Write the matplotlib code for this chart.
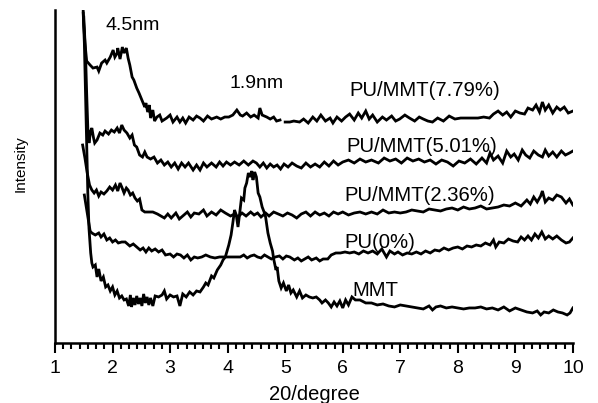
import numpy as np
import matplotlib
matplotlib.use("Agg")
import matplotlib.pyplot as plt
from matplotlib.ticker import MultipleLocator, AutoMinorLocator

plt.rcParams['font.family'] = ['Liberation Sans', 'DejaVu Sans']

# 2theta (degree) / intensity (a.u.)
pu779_x = [1.49, 1.50, 1.52, 1.55, 1.61, 1.66, 1.73, 1.76, 1.81, 1.87, 1.90, 1.96, 2.01, 2.04, 2.08, 2.09,
           2.13, 2.17, 2.20, 2.24, 2.27, 2.30, 2.34, 2.37, 2.42, 2.46, 2.51, 2.56, 2.58, 2.61, 2.64, 2.66,
           2.70, 2.73, 2.77, 2.82, 2.86, 2.94, 3.00, 3.05, 3.12, 3.17, 3.22, 3.27, 3.33, 3.40, 3.46, 3.52,
           3.58, 3.65, 3.72, 3.81, 3.88, 3.95, 4.02, 4.09, 4.16, 4.22, 4.26, 4.33, 4.40, 4.46, 4.53, 4.56,
           4.60, 4.68, 4.74, 4.80, 4.85, 4.91, 4.95, 5.00, 5.08, 5.15, 5.25, 5.32, 5.40, 5.48, 5.55, 5.62,
           5.70, 5.78, 5.83, 5.90, 5.98, 6.05, 6.12, 6.20, 6.27, 6.33, 6.40, 6.46, 6.52, 6.60, 6.69, 6.76,
           6.85, 6.92, 6.99, 7.08, 7.16, 7.25, 7.33, 7.40, 7.48, 7.56, 7.65, 7.75, 7.85, 7.95, 8.05, 8.15,
           8.25, 8.35, 8.45, 8.55, 8.62, 8.70, 8.78, 8.85, 8.92, 9.00, 9.08, 9.16, 9.22, 9.30, 9.36, 9.42,
           9.47, 9.52, 9.58, 9.65, 9.72, 9.78, 9.85, 9.92, 10.0]
pu779_y = [332, 318, 300, 282, 278, 275, 276, 272, 280, 283, 280, 286, 293, 286, 290, 295,
           284, 296, 290, 295, 285, 278, 266, 263, 255, 250, 243, 236, 240, 231, 238, 225,
           233, 222, 226, 228, 222, 225, 228, 221, 226, 221, 225, 220, 226, 223, 227, 225,
           222, 227, 224, 226, 224, 226, 226, 228, 233, 228, 227, 230, 226, 228, 225, 235,
           228, 226, 224, 226, 222, 223, np.nan, 221, 221, 222, 221, 224, 220, 226, 222, 228,
           222, 225, 220, 226, 222, 226, 229, 223, 230, 225, 232, 224, 228, 221, 226, 223,
           227, 222, 224, 228, 225, 222, 226, 224, 222, 221, 225, 222, 227, 224, 225, 225,
           225, 225, 226, 225, 229, 232, 228, 231, 226, 232, 230, 229, 235, 233, 238, 231,
           241, 233, 238, 230, 236, 233, 236, 230, 232]

pu501_x = [1.50, 1.53, 1.55, 1.57, 1.59, 1.62, 1.64, 1.67, 1.69, 1.73, 1.78, 1.83, 1.87, 1.93, 1.98, 2.03,
           2.08, 2.12, 2.16, 2.20, 2.25, 2.30, 2.34, 2.38, 2.42, 2.47, 2.52, 2.56, 2.60, 2.66, 2.72, 2.78,
           2.84, 2.90, 2.96, 3.02, 3.08, 3.14, 3.20, 3.26, 3.32, 3.40, 3.46, 3.52, 3.58, 3.64, 3.72, 3.80,
           3.86, 3.92, 3.98, 4.05, 4.12, 4.20, 4.28, 4.36, 4.44, 4.50, 4.56, 4.62, 4.68, 4.74, 4.80, 4.86,
           4.92, 4.98, 5.05, 5.12, 5.20, 5.28, 5.36, 5.44, 5.52, 5.60, 5.68, 5.76, 5.84, 5.92, 6.00, 6.10,
           6.20, 6.30, 6.40, 6.50, 6.62, 6.72, 6.82, 6.92, 7.02, 7.12, 7.22, 7.32, 7.42, 7.52, 7.62, 7.72,
           7.82, 7.92, 8.02, 8.12, 8.22, 8.32, 8.42, 8.50, 8.56, 8.62, 8.70, 8.78, 8.85, 8.92, 8.98, 9.05,
           9.12, 9.18, 9.25, 9.32, 9.40, 9.47, 9.52, 9.58, 9.65, 9.72, 9.80, 9.87, 9.94, 10.0]
pu501_y = [326, 290, 250, 215, 200, 212, 215, 205, 200, 203, 210, 208, 212, 209, 213, 211,
           215, 210, 218, 213, 210, 205, 208, 198, 196, 188, 186, 191, 186, 184, 186, 180,
           183, 178, 181, 176, 180, 174, 180, 176, 180, 173, 178, 173, 180, 176, 180, 176,
           181, 177, 181, 178, 181, 178, 182, 178, 182, 180, 176, 180, 175, 179, 176, 178,
           174, 179, 176, 180, 177, 175, 180, 176, 179, 176, 181, 177, 182, 178, 181, 183,
           180, 184, 181, 183, 180, 185, 182, 184, 180, 185, 182, 184, 181, 183, 179, 183,
           181, 177, 182, 180, 184, 179, 185, 180, 190, 183, 187, 180, 192, 186, 189, 183,
           193, 188, 185, 192, 188, 186, 193, 187, 191, 186, 192, 188, 190, 192]

pu236_x = [1.48, 1.52, 1.56, 1.60, 1.64, 1.68, 1.72, 1.76, 1.80, 1.85, 1.90, 1.95, 2.00, 2.05, 2.09, 2.13,
           2.16, 2.20, 2.24, 2.27, 2.31, 2.35, 2.39, 2.43, 2.47, 2.51, 2.56, 2.62, 2.70, 2.78, 2.84, 2.90,
           2.96, 3.02, 3.10, 3.16, 3.22, 3.30, 3.36, 3.42, 3.50, 3.58, 3.64, 3.72, 3.80, 3.88, 3.96, 4.05,
           4.12, 4.18, 4.25, 4.32, 4.40, 4.46, 4.52, 4.58, 4.66, 4.72, 4.80, 4.88, 4.96, 5.04, 5.12, 5.20,
           5.28, 5.36, 5.44, 5.52, 5.60, 5.68, 5.76, 5.84, 5.92, 6.00, 6.10, 6.20, 6.30, 6.40, 6.50, 6.60,
           6.70, 6.80, 6.90, 7.00, 7.10, 7.20, 7.30, 7.40, 7.50, 7.60, 7.70, 7.80, 7.90, 8.00, 8.10, 8.20,
           8.30, 8.40, 8.50, 8.60, 8.70, 8.80, 8.90, 9.00, 9.10, 9.20, 9.26, 9.32, 9.38, 9.44, 9.47, 9.52,
           9.58, 9.65, 9.72, 9.80, 9.88, 9.94, 10.0]
pu236_y = [198, 185, 170, 158, 153, 150, 153, 147, 151, 149, 152, 156, 153, 158, 152, 160,
           156, 150, 155, 153, 148, 150, 145, 142, 144, 133, 131, 131, 131, 129, 127, 125,
           129, 125, 130, 124, 127, 131, 126, 130, 129, 133, 127, 131, 128, 133, 130, 127,
           129, 126, 130, 127, 131, 128, 130, 126, 130, 127, 131, 129, 127, 130, 128, 125,
           129, 131, 127, 131, 128, 130, 127, 131, 129, 131, 128, 130, 131, 129, 131, 129,
           133, 130, 131, 130, 131, 133, 132, 131, 134, 133, 132, 134, 135, 133, 136, 134,
           135, 137, 134, 135, 136, 138, 137, 140, 137, 143, 139, 146, 141, 147, 152, 141,
           145, 143, 148, 146, 140, 144, 138]

pu0_x = [1.51, 1.56, 1.61, 1.64, 1.70, 1.76, 1.80, 1.85, 1.90, 1.95, 2.00, 2.05, 2.10, 2.16, 2.22, 2.30,
         2.36, 2.42, 2.48, 2.53, 2.58, 2.63, 2.68, 2.74, 2.80, 2.86, 2.92, 3.00, 3.06, 3.12, 3.18, 3.24,
         3.30, 3.36, 3.42, 3.48, 3.55, 3.62, 3.70, 3.78, 3.86, 3.93, 4.00, 4.08, 4.15, 4.22, 4.28, 4.34,
         4.40, 4.46, 4.52, 4.58, 4.64, 4.70, 4.76, 4.83, 4.90, 4.96, 5.02, 5.08, 5.16, 5.22, 5.28, 5.34,
         5.40, 5.46, 5.54, 5.60, 5.66, 5.74, 5.80, 5.88, 5.96, 6.04, 6.12, 6.20, 6.28, 6.36, 6.44, 6.52,
         6.60, 6.68, 6.76, 6.82, 6.90, 6.96, 7.04, 7.12, 7.20, 7.28, 7.36, 7.44, 7.52, 7.60, 7.68, 7.76,
         7.84, 7.92, 8.00, 8.08, 8.16, 8.24, 8.32, 8.40, 8.48, 8.56, 8.62, 8.66, 8.72, 8.80, 8.88, 8.96,
         9.04, 9.10, 9.16, 9.22, 9.28, 9.34, 9.40, 9.46, 9.52, 9.58, 9.65, 9.72, 9.80, 9.88, 9.94, 10.0]
pu0_y = [148, 130, 112, 110, 108, 110, 106, 109, 103, 105, 101, 103, 100, 101, 101, 97,
         99, 96, 93, 95, 91, 95, 92, 94, 91, 93, 88, 89, 86, 89, 88, 85,
         88, 83, 86, 85, 86, 88, 86, 85, 86, 86, 86, 86, 86, 86, 88, 85,
         87, 88, 86, 85, 88, 86, 84, 86, 87, 84, 87, 86, 83, 85, 82, 84,
         86, 83, 85, 82, 84, 84, 88, 90, 90, 91, 90, 91, 89, 92, 90, 92,
         89, 94, 86, 92, 89, 91, 88, 90, 89, 91, 89, 92, 90, 93, 92, 95,
         93, 95, 96, 94, 97, 96, 98, 97, 100, 98, 103, 96, 101, 100, 104, 102,
         101, 106, 103, 107, 103, 109, 105, 111, 104, 107, 104, 107, 103, 100, 101, 105]

mmt_x = [1.49, 1.51, 1.53, 1.55, 1.57, 1.59, 1.62, 1.64, 1.66, 1.70, 1.73, 1.76, 1.80, 1.84, 1.88, 1.92,
         1.96, 2.00, 2.04, 2.08, 2.12, 2.16, 2.20, 2.24, 2.28, 2.31, 2.33, 2.36, 2.39, 2.42, 2.45, 2.48,
         2.51, 2.54, 2.57, 2.60, 2.63, 2.66, 2.70, 2.74, 2.80, 2.86, 2.90, 2.94, 3.00, 3.06, 3.12, 3.17,
         3.22, 3.28, 3.34, 3.40, 3.46, 3.52, 3.58, 3.62, 3.66, 3.72, 3.76, 3.82, 3.88, 3.92, 3.96, 4.02,
         4.06, 4.09, 4.12, 4.15, 4.18, 4.21, 4.24, 4.28, 4.30, 4.33, 4.36, 4.39, 4.42, 4.44, 4.47, 4.50,
         4.53, 4.56, 4.60, 4.64, 4.66, 4.70, 4.74, 4.78, 4.80, 4.84, 4.86, 4.89, 4.93, 4.97, 5.02, 5.06,
         5.10, 5.14, 5.20, 5.25, 5.30, 5.36, 5.42, 5.48, 5.54, 5.60, 5.64, 5.70, 5.75, 5.80, 5.85, 5.90,
         5.95, 6.00, 6.05, 6.10, 6.16, 6.22, 6.30, 6.40, 6.50, 6.60, 6.70, 6.80, 6.90, 7.00, 7.10, 7.20,
         7.30, 7.40, 7.50, 7.56, 7.62, 7.70, 7.80, 7.90, 8.00, 8.10, 8.20, 8.30, 8.40, 8.50, 8.60, 8.70,
         8.80, 8.90, 9.00, 9.10, 9.20, 9.30, 9.38, 9.44, 9.50, 9.58, 9.66, 9.74, 9.82, 9.90, 9.95, 10.0]
mmt_y = [330, 300, 250, 200, 150, 115, 90, 80, 76, 78, 66, 74, 62, 66, 56, 58,
         52, 56, 48, 52, 45, 47, 43, 44, 37, 48, 36, 45, 38, 47, 39, 45,
         37, 49, 40, 46, 38, 45, 37, 47, 46, 48, 52, 44, 48, 46, 47, 37,
         49, 46, 51, 48, 52, 51, 56, 60, 58, 67, 65, 73, 78, 83, 86, 98,
         108, 120, 133, 128, 116, 130, 145, 143, 155, 160, 170, 166, 172, 163, 171, 166,
         150, 146, 136, 130, 126, 110, 100, 92, 84, 73, 76, 62, 55, 60, 52, 58,
         50, 53, 46, 52, 45, 48, 46, 45, 46, 43, 40, 43, 40, 36, 41, 37,
         42, 35, 43, 38, 46, 43, 43, 40, 40, 38, 39, 37, 36, 38, 37, 36,
         35, 34, 37, 33, 36, 37, 35, 36, 35, 34, 35, 35, 36, 34, 35, 33,
         36, 32, 35, 33, 31, 30, 32, 28, 31, 30, 33, 31, 30, 28, 30, 35]

series = [(pu779_x, pu779_y), (pu501_x, pu501_y), (pu236_x, pu236_y),
          (pu0_x, pu0_y), (mmt_x, mmt_y)]

fig = plt.figure(figsize=(5.98, 4.03), dpi=100)
ax = fig.add_axes([0.092, 0.149, 0.866, 0.826])

for xs, ys in series:
    ax.plot(xs, ys, color='black', linewidth=2.0, solid_joinstyle='miter')

# annotations
ax.text(1.885, 318, '4.5nm', fontsize=14, va='center')
ax.text(4.04, 260, '1.9nm', fontsize=14, va='center')
ax.text(6.12, 253, 'PU/MMT(7.79%)', fontsize=14.6, va='center')
ax.text(6.07, 197, 'PU/MMT(5.01%)', fontsize=14.6, va='center')
ax.text(6.03, 148, 'PU/MMT(2.36%)', fontsize=14.6, va='center')
ax.text(6.03, 100, 'PU(0%)', fontsize=14.6, va='center')
ax.text(6.17, 52, 'MMT', fontsize=14.6, va='center')

ax.set_xlim(1, 10)
ax.set_ylim(0, 333)
ax.xaxis.set_major_locator(MultipleLocator(1))
ax.xaxis.set_minor_locator(AutoMinorLocator(7))
ax.tick_params(axis='x', which='major', direction='out', length=7, width=1.5,
               labelsize=14, pad=5)
ax.tick_params(axis='x', which='minor', direction='out', length=4, width=1.5)
ax.set_yticks([])

for s in ['top', 'right']:
    ax.spines[s].set_visible(False)
for s in ['left', 'bottom']:
    ax.spines[s].set_linewidth(1.8)

ax.set_xlabel('20/degree', fontsize=14.5, labelpad=6)
fig.text(21 / 598, 1 - 164 / 403, 'Intensity', rotation=90, fontsize=11,
         ha='center', va='center')

fig.savefig('out.png', dpi=100)
